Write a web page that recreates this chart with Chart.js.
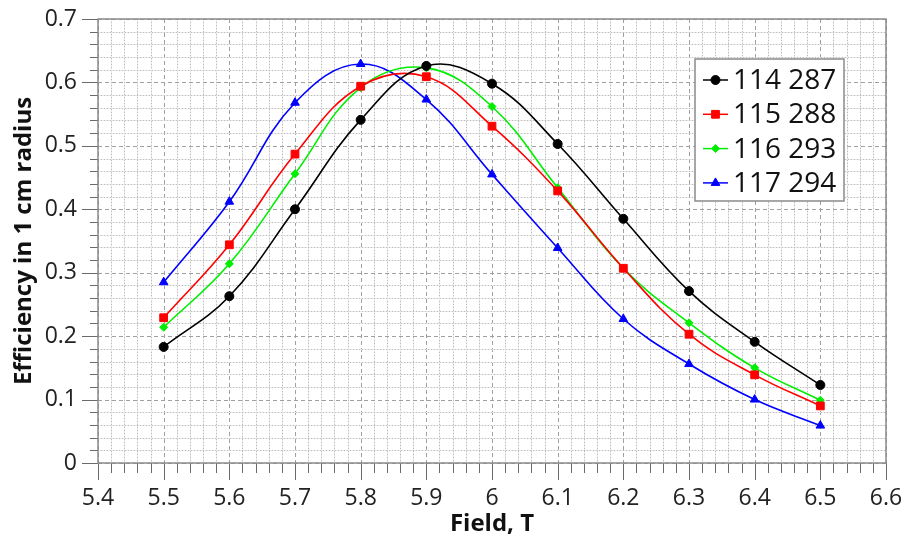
<!DOCTYPE html>
<html>
<head>
<meta charset="utf-8">
<script src="https://cdn.jsdelivr.net/npm/chart.js@4.4.1/dist/chart.umd.min.js"></script>
<style>
html, body { margin: 0; padding: 0; background: #fff; }
</style>
</head>
<body>
<canvas id="myChart" width="904" height="541"></canvas>
<script>
// field values (T)
const fields = [5.5, 5.6, 5.7, 5.8, 5.9, 6.0, 6.1, 6.2, 6.3, 6.4, 6.5];

const seriesNames = ['114 287', '115 288', '116 293', '117 294'];
const eff114 = [0.183, 0.263, 0.400, 0.541, 0.626, 0.598, 0.503, 0.385, 0.271, 0.191, 0.123];
const eff115 = [0.229, 0.344, 0.487, 0.594, 0.609, 0.531, 0.429, 0.307, 0.203, 0.139, 0.090];
const eff116 = [0.214, 0.314, 0.456, 0.592, 0.623, 0.562, 0.434, 0.307, 0.221, 0.150, 0.099];
const eff117 = [0.285, 0.412, 0.568, 0.629, 0.573, 0.455, 0.339, 0.227, 0.156, 0.100, 0.059];

const colors = ['#000000', '#ff0000', '#00ee00', '#0000ff'];
const markers = ['circle', 'rect', 'rectRot', 'triangle'];
const markerSizes = [4.5, 5.5, 4, 5];

const allSeries = [eff114, eff115, eff116, eff117];

function toPoints(vals) {
  return vals.map((v, i) => ({ x: fields[i], y: v }));
}

function fmt(v) {
  return Number(v.toFixed(1)).toString();
}

// grid, minor ticks and frame, drawn from the scales
const gridPlugin = {
  id: 'gridPlugin',
  beforeDatasetsDraw(chart) {
    const { ctx, chartArea: a, scales } = chart;
    const x = scales.x, y = scales.y;
    ctx.save();
    // x lines, every 0.02
    for (let i = 0; i <= 60; i++) {
      const v = 5.4 + i * 0.02;
      const px = Math.round(x.getPixelForValue(v)) + 0.5;
      const major = i % 5 === 0;
      ctx.lineWidth = 1;
      if (major) {
        ctx.strokeStyle = '#a0a0a0';
        ctx.setLineDash([4, 3]);
      } else {
        ctx.strokeStyle = '#e8e8e8';
        ctx.setLineDash([]);
        ctx.beginPath(); ctx.moveTo(px, a.top); ctx.lineTo(px, a.bottom); ctx.stroke();
        ctx.strokeStyle = '#bdbdbd';
        ctx.setLineDash([1, 2]);
      }
      ctx.beginPath(); ctx.moveTo(px, a.top); ctx.lineTo(px, a.bottom); ctx.stroke();
      // outer tick
      ctx.setLineDash([]);
      ctx.strokeStyle = '#6a6a6a';
      ctx.beginPath(); ctx.moveTo(px, a.bottom); ctx.lineTo(px, a.bottom + (major ? 17 : 10)); ctx.stroke();
    }
    // y lines, every 0.02
    for (let i = 0; i <= 35; i++) {
      const v = i * 0.02;
      const py = Math.round(y.getPixelForValue(v)) + 0.5;
      const major = i % 5 === 0;
      ctx.lineWidth = 1;
      if (major) {
        ctx.strokeStyle = '#a0a0a0';
        ctx.setLineDash([4, 3]);
      } else {
        ctx.strokeStyle = '#e8e8e8';
        ctx.setLineDash([]);
        ctx.beginPath(); ctx.moveTo(a.left, py); ctx.lineTo(a.right, py); ctx.stroke();
        ctx.strokeStyle = '#bdbdbd';
        ctx.setLineDash([1, 2]);
      }
      ctx.beginPath(); ctx.moveTo(a.left, py); ctx.lineTo(a.right, py); ctx.stroke();
      ctx.setLineDash([]);
      ctx.strokeStyle = '#6a6a6a';
      ctx.beginPath(); ctx.moveTo(a.left, py); ctx.lineTo(a.left - (major ? 16 : 8), py); ctx.stroke();
    }
    // frame
    ctx.setLineDash([]);
    ctx.strokeStyle = '#8a8a8a';
    ctx.lineWidth = 1.5;
    ctx.strokeRect(a.left, a.top, a.right - a.left, a.bottom - a.top);
    ctx.restore();
  },
  afterDraw(chart) {
    // legend box inside the plot
    const ctx = chart.ctx;
    const bx = 695, by = 59, bw = 149, bh = 142;
    ctx.save();
    ctx.fillStyle = '#fff';
    ctx.fillRect(bx, by, bw, bh);
    ctx.strokeStyle = '#8a8a8a';
    ctx.lineWidth = 1.5;
    ctx.strokeRect(bx, by, bw, bh);
    chart.data.datasets.forEach((ds, i) => {
      const cy = by + 21 + i * 34.3;
      ctx.strokeStyle = ds.borderColor;
      ctx.lineWidth = 1.5;
      ctx.beginPath(); ctx.moveTo(703, cy); ctx.lineTo(728, cy); ctx.stroke();
      ctx.fillStyle = ds.borderColor;
      ctx.lineWidth = 1;
      Chart.helpers.drawPoint(ctx, { pointStyle: ds.pointStyle, radius: ds.pointRadius, rotation: 0, borderWidth: 1 }, 715.5, cy);
      ctx.fillStyle = '#111';
      ctx.font = '28px "Open Sans"';
      ctx.textBaseline = 'middle';
      ctx.fillText(ds.label, 733, cy + 1);
    });
    ctx.restore();
  }
};

const myChart = document.getElementById('myChart');

const lineChart = new Chart(myChart, {
  type: 'line',
  data: {
    datasets: allSeries.map((vals, i) => ({
      label: seriesNames[i],
      data: toPoints(vals),
      borderColor: colors[i],
      backgroundColor: colors[i],
      pointStyle: markers[i],
      pointRadius: markerSizes[i],
      pointBorderWidth: 1,
      borderWidth: 1.6,
      tension: 0.4,
      fill: false
    }))
  },
  options: {
    responsive: false,
    animation: false,
    layout: { padding: { left: 8, top: 0, right: 0, bottom: 0 } },
    plugins: {
      legend: { display: false },
      tooltip: { enabled: false }
    },
    scales: {
      x: {
        type: 'linear',
        min: 5.4,
        max: 6.6,
        grid: { display: false, drawTicks: false },
        border: { display: false },
        ticks: {
          stepSize: 0.1,
          padding: 22,
          color: '#222',
          font: { family: 'Open Sans', size: 23 },
          callback: v => fmt(v),
          autoSkip: false,
          maxRotation: 0
        },
        title: {
          display: true,
          text: 'Field, T',
          color: '#111',
          font: { family: 'Open Sans', size: 24, weight: 'bold' },
          padding: { top: 0, bottom: 2 }
        },
        afterFit(scale) {
          scale.height = 78;
          scale.paddingLeft = 0;
          scale.paddingRight = 18;
        }
      },
      y: {
        min: 0,
        max: 0.7,
        grid: { display: false, drawTicks: false },
        border: { display: false },
        ticks: {
          stepSize: 0.1,
          padding: 21,
          color: '#222',
          font: { family: 'Open Sans', size: 23 },
          callback: v => fmt(v)
        },
        title: {
          display: true,
          text: 'Efficiency in 1 cm radius',
          color: '#111',
          font: { family: 'Open Sans', size: 24, weight: 'bold' },
          padding: { top: 2, bottom: 2 }
        },
        afterFit(scale) {
          scale.width = 90;
          scale.paddingTop = 19;
          scale.paddingBottom = 0;
        }
      }
    }
  },
  plugins: [gridPlugin]
});
</script>
</body>
</html>
